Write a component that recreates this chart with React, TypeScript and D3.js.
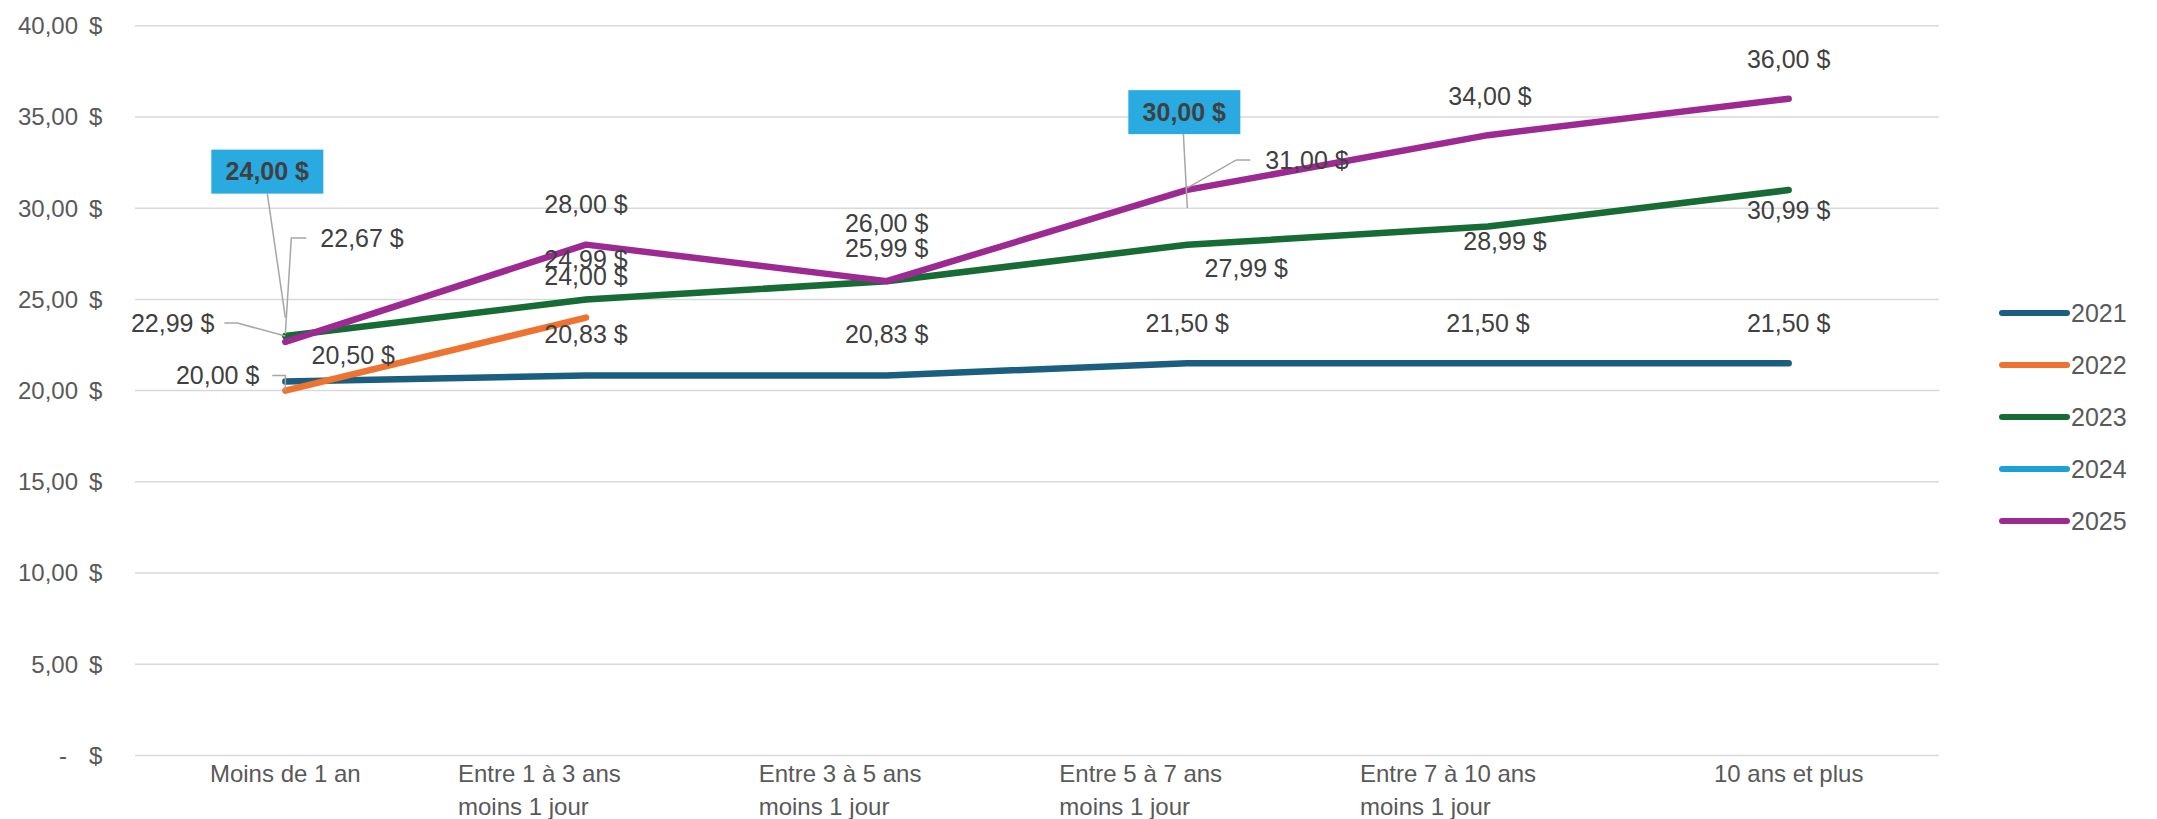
import React from "react";
import * as d3 from "d3";

const categories = [
  ["Moins de 1 an"],
  ["Entre 1 à 3 ans", "moins 1 jour"],
  ["Entre 3 à 5 ans", "moins 1 jour"],
  ["Entre 5 à 7 ans", "moins 1 jour"],
  ["Entre 7 à 10 ans", "moins 1 jour"],
  ["10 ans et plus"],
];
const years = ["2021", "2022", "2023", "2024", "2025"];
const s2021 = [20.5, 20.83, 20.83, 21.5, 21.5, 21.5];
const s2022 = [20.0, 24.0, null, null, null, null];
const s2023 = [22.99, 24.99, 25.99, 27.99, 28.99, 30.99];
const s2024 = [24.0, null, null, 30.0, null, null];
const s2025 = [22.67, 28.0, 26.0, 31.0, 34.0, 36.0];
const yTicks = [0, 5, 10, 15, 20, 25, 30, 35, 40];

const seriesValues = [s2021, s2022, s2023, s2024, s2025];
const colors = ["#1b5e80", "#ee7230", "#176b35", "#1ba0d8", "#9c2a92"];

type Lab = { dx: number; dy: number; kind?: string; lead?: [number, number][] } | null;
const labelLayout: Lab[][] = [
  [{ dx: 68, dy: -26 }, { dx: 0, dy: -41 }, { dx: 0, dy: -41 }, { dx: 0, dy: -40 }, { dx: 0, dy: -40 }, { dx: 0, dy: -40 }],
  [{ dx: -26, dy: -15, kind: "end", lead: [[-13, -15], [0, -15], [0, 0]] }, { dx: 0, dy: -41 }, null, null, null, null],
  [{ dx: -71, dy: -13, kind: "end", lead: [[-61, -13], [-48, -13], [0, 0]] }, { dx: 0, dy: -40 }, { dx: 0, dy: -33 }, { dx: 59, dy: 23 }, { dx: 17, dy: 15 }, { dx: 0, dy: 20 }],
  [{ dx: -18, dy: -146, kind: "box", lead: [[-18, -124], [0, 0]] }, null, null, { dx: -3, dy: -96, kind: "box", lead: [[-4, -75], [0, 0]] }, null, null],
  [{ dx: 35, dy: -104, kind: "start", lead: [[21, -104], [6, -104], [0, -8]] }, { dx: 0, dy: -40 }, { dx: 0, dy: -58 }, { dx: 78, dy: -30, kind: "start", lead: [[63, -30], [49, -30], [0, -2]] }, { dx: 2, dy: -39 }, { dx: 0, dy: -39 }],
];

const W = 2157;
const H = 819;
const fmt = (v: number) => v.toFixed(2).replace(".", ",") + " $";

export default function App() {
  const x = d3.scaleBand<number>().domain(d3.range(categories.length)).range([135, 1939]);
  const cx = (i: number) => (x(i) as number) + x.bandwidth() / 2;
  const y = d3.scaleLinear().domain([0, 40]).range([755.5, 25.7]);
  const makeLine = (vals: (number | null)[]) =>
    d3
      .line<number | null>()
      .defined(
        (d, i) =>
          d !== null &&
          ((i > 0 && vals[i - 1] !== null) || (i < vals.length - 1 && vals[i + 1] !== null))
      )
      .x((_, i) => cx(i))
      .y((d) => y(d as number))(vals);

  const labelFont = "'Liberation Sans', Arial, sans-serif";

  return (
    <svg width={W} height={H} style={{ position: "absolute", left: 0, top: 0, background: "#fff" }} fontFamily={labelFont}>
      {yTicks.map((t) => (
        <g key={t}>
          <line x1={135} x2={1939} y1={y(t)} y2={y(t)} stroke="#d9d9d9" strokeWidth={1.5} />
          <text x={t === 0 ? 67 : 78} y={y(t)} dy="0.35em" textAnchor="end" fontSize={24} fill="#595959">
            {t === 0 ? "-" : t.toFixed(2).replace(".", ",")}
          </text>
          <text x={89} y={y(t)} dy="0.35em" textAnchor="start" fontSize={24} fill="#595959">
            $
          </text>
        </g>
      ))}
      {categories.map((lines, i) =>
        lines.map((ln, j) => (
          <text
            key={i + "-" + j}
            x={lines.length > 1 ? cx(i) - 128 : cx(i)}
            y={774 + j * 33}
            dy="0.35em"
            textAnchor={lines.length > 1 ? "start" : "middle"}
            fontSize={24}
            fill="#595959"
          >
            {ln}
          </text>
        ))
      )}
      {seriesValues.map((vals, s) => (
        <path
          key={s}
          d={makeLine(vals) || ""}
          fill="none"
          stroke={colors[s]}
          strokeWidth={6.5}
          strokeLinejoin="round"
          strokeLinecap="round"
        />
      ))}
      {seriesValues.map((vals, s) =>
        vals.map((v, i) => {
          const lay = labelLayout[s][i];
          if (v === null || !lay) return null;
          const px = cx(i);
          const py = y(v);
          const lx = px + lay.dx;
          const ly = py + lay.dy;
          const lead = lay.lead ? (
            <polyline
              points={lay.lead.map(([a, b]) => `${px + a},${py + b}`).join(" ")}
              fill="none"
              stroke="#a6a6a6"
              strokeWidth={1.5}
            />
          ) : null;
          if (lay.kind === "box") {
            return (
              <g key={s + "-" + i}>
                {lead}
                <rect x={lx - 56} y={ly - 22} width={112} height={44} fill="#29abe2" />
                <text x={lx} y={ly} dy="0.35em" textAnchor="middle" fontSize={25} fontWeight="bold" fill="#404040">
                  {fmt(v)}
                </text>
              </g>
            );
          }
          const anchor = lay.kind === "end" ? "end" : lay.kind === "start" ? "start" : "middle";
          return (
            <g key={s + "-" + i}>
              {lead}
              <text x={lx} y={ly} dy="0.35em" textAnchor={anchor} fontSize={25} fill="#404040">
                {fmt(v)}
              </text>
            </g>
          );
        })
      )}
      {years.map((yr, k) => (
        <g key={yr}>
          <line x1={2002} x2={2067} y1={313 + k * 52} y2={313 + k * 52} stroke={colors[k]} strokeWidth={6} strokeLinecap="round" />
          <text x={2071} y={313 + k * 52} dy="0.35em" fontSize={25} fill="#595959">
            {yr}
          </text>
        </g>
      ))}
    </svg>
  );
}
